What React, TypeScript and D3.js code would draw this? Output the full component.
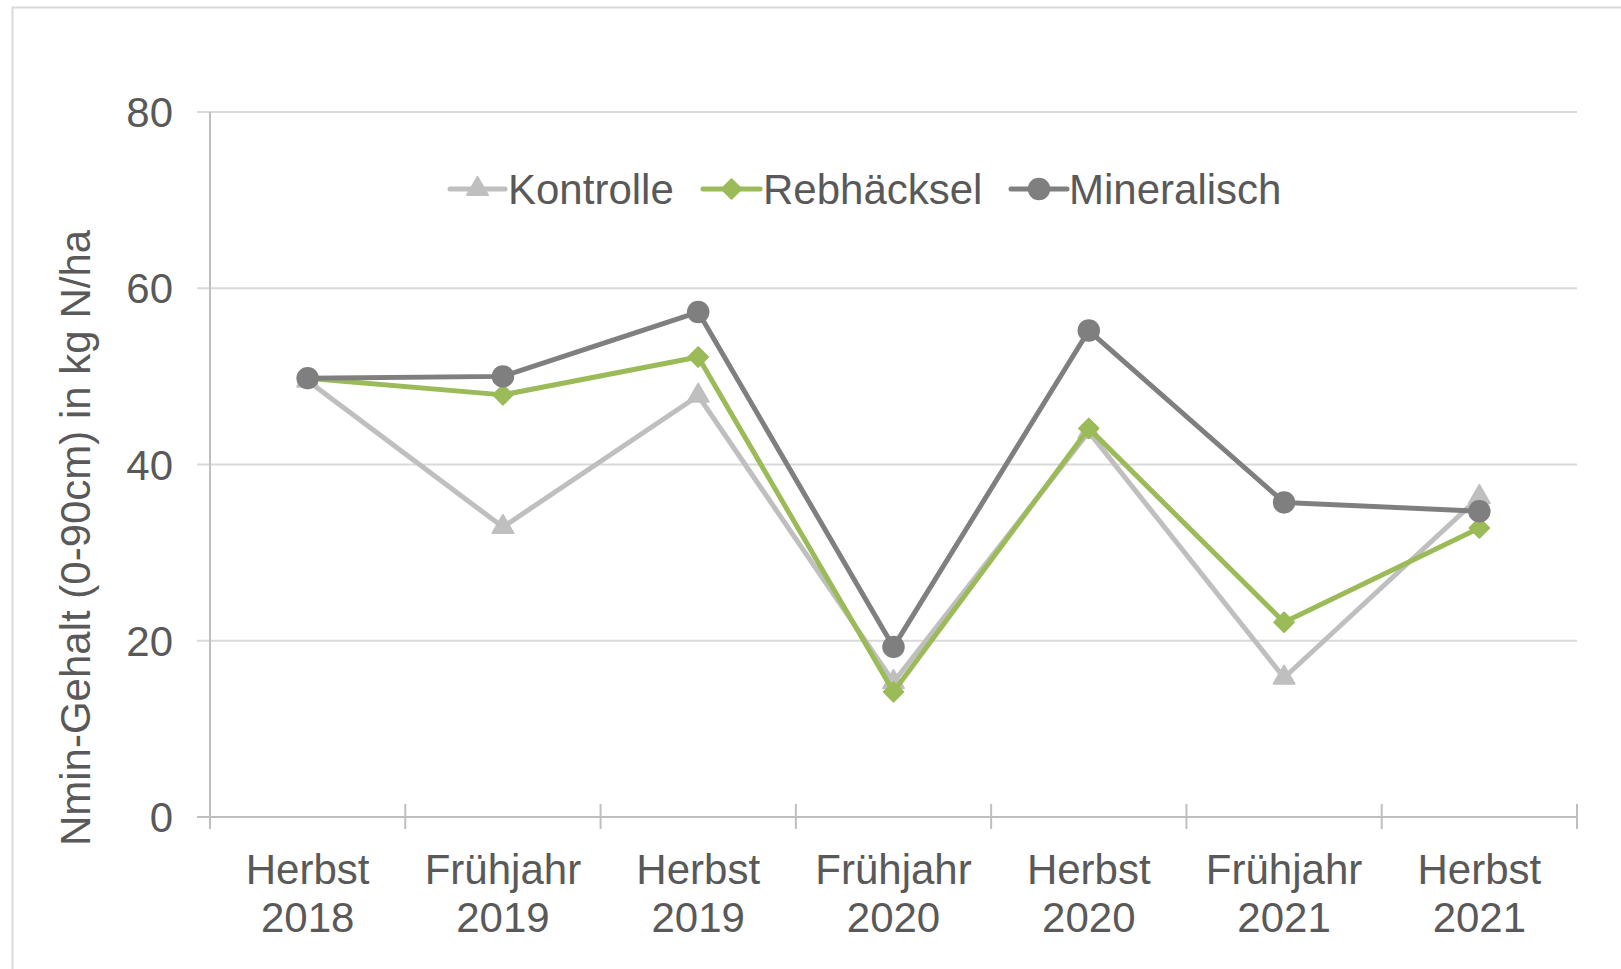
import React, { useEffect, useRef } from "react";
import * as d3 from "d3";

const categories = [
  ["Herbst", "2018"],
  ["Frühjahr", "2019"],
  ["Herbst", "2019"],
  ["Frühjahr", "2020"],
  ["Herbst", "2020"],
  ["Frühjahr", "2021"],
  ["Herbst", "2021"],
];
const kontrolle = [49.5, 32.9, 47.8, 15.3, 43.7, 15.8, 36.3];
const rebhaecksel = [49.8, 47.9, 52.2, 14.2, 44.1, 22.1, 32.8];
const mineralisch = [49.8, 50.0, 57.3, 19.3, 55.2, 35.7, 34.7];
const yTicks = [0, 20, 40, 60, 80];

const App = () => {
  const svgRef = useRef<SVGSVGElement>(null);

  useEffect(() => {
    const width = 1621,
      height = 969;
    const left = 210,
      right = 1577,
      top = 112,
      bottom = 817;
    const textColor = "#595959",
      gridColor = "#d9d9d9",
      axisColor = "#bfbfbf";
    const font = "'Liberation Sans', Arial, sans-serif";

    // square symbols get rotated 45deg to look like Excel's diamond
    const series = [
      { name: "Kontrolle", values: kontrolle, color: "#bfbfbf", symbol: d3.symbolTriangle, size: 190, rot: 0 },
      { name: "Rebhäcksel", values: rebhaecksel, color: "#9bbb59", symbol: d3.symbolSquare, size: 190, rot: 45 },
      { name: "Mineralisch", values: mineralisch, color: "#7f7f7f", symbol: d3.symbolCircle, size: 330, rot: 0 },
    ];

    const svg = d3
      .select(svgRef.current)
      .attr("width", width)
      .attr("height", height)
      .html("");

    svg.append("rect").attr("width", width).attr("height", height).attr("fill", "#fff");

    // outer chart border
    svg
      .append("rect")
      .attr("x", 12.5)
      .attr("y", 7.5)
      .attr("width", width)
      .attr("height", height)
      .attr("fill", "none")
      .attr("stroke", gridColor)
      .attr("stroke-width", 2);

    const x = d3
      .scaleBand()
      .domain(categories.map((_, i) => String(i)))
      .range([left, right]);
    const y = d3.scaleLinear().domain([0, 80]).range([bottom, top]);

    // gridlines + y ticks
    svg
      .append("g")
      .selectAll("line")
      .data(yTicks.filter((t) => t > 0))
      .enter()
      .append("line")
      .attr("x1", left - 13)
      .attr("x2", right)
      .attr("y1", (d) => y(d))
      .attr("y2", (d) => y(d))
      .attr("stroke", gridColor)
      .attr("stroke-width", 2);

    svg
      .append("g")
      .selectAll("text")
      .data(yTicks)
      .enter()
      .append("text")
      .attr("x", 173)
      .attr("y", (d) => y(d))
      .attr("dy", "0.36em")
      .attr("text-anchor", "end")
      .style("font-family", font)
      .style("font-size", "42px")
      .style("fill", textColor)
      .text((d) => d);

    // y axis line
    svg
      .append("line")
      .attr("x1", left)
      .attr("x2", left)
      .attr("y1", top)
      .attr("y2", bottom + 12)
      .attr("stroke", axisColor)
      .attr("stroke-width", 2);

    // x axis line
    svg
      .append("line")
      .attr("x1", left - 13)
      .attr("x2", right)
      .attr("y1", bottom)
      .attr("y2", bottom)
      .attr("stroke", axisColor)
      .attr("stroke-width", 2);

    // x ticks (crossing)
    const tickPos = categories.map((_, i) => x(String(i)) as number).concat([right]);
    svg
      .append("g")
      .selectAll("line")
      .data(tickPos)
      .enter()
      .append("line")
      .attr("x1", (d) => d)
      .attr("x2", (d) => d)
      .attr("y1", bottom - 13)
      .attr("y2", bottom + 12)
      .attr("stroke", axisColor)
      .attr("stroke-width", 2);

    // x labels
    const xl = svg
      .append("g")
      .selectAll("text")
      .data(categories)
      .enter()
      .append("text")
      .attr("text-anchor", "middle")
      .style("font-family", font)
      .style("font-size", "42px")
      .style("fill", textColor);
    xl.append("tspan")
      .attr("x", (_, i) => (x(String(i)) as number) + x.bandwidth() / 2)
      .attr("y", 884)
      .text((d) => d[0]);
    xl.append("tspan")
      .attr("x", (_, i) => (x(String(i)) as number) + x.bandwidth() / 2)
      .attr("y", 932)
      .text((d) => d[1]);

    // y axis title
    svg
      .append("text")
      .attr("transform", `translate(90, 538) rotate(-90)`)
      .attr("text-anchor", "middle")
      .style("font-family", font)
      .style("font-size", "42px")
      .style("fill", textColor)
      .text("Nmin-Gehalt (0-90cm) in kg N/ha");

    const cx = (i: number) => (x(String(i)) as number) + x.bandwidth() / 2;
    const line = d3
      .line<number>()
      .x((_, i) => cx(i))
      .y((d) => y(d));

    series.forEach((s) => {
      const g = svg.append("g");
      g.append("path")
        .attr("d", line(s.values))
        .attr("fill", "none")
        .attr("stroke", s.color)
        .attr("stroke-width", 5)
        .attr("stroke-linejoin", "round");
      g.selectAll("path.m")
        .data(s.values)
        .enter()
        .append("path")
        .attr("class", "m")
        .attr("d", d3.symbol().type(s.symbol).size(s.size)())
        .attr("transform", (d, i) => `translate(${cx(i)}, ${y(d)}) rotate(${s.rot})`)
        .attr("fill", s.color)
        .attr("stroke", s.color)
        .attr("stroke-width", 2)
        .attr("stroke-linejoin", "round");
    });

    // legend
    const legendY = 189;
    const legendItems = [
      { x0: 450, x1: 505, tx: 508 },
      { x0: 703, x1: 760, tx: 763 },
      { x0: 1011, x1: 1067, tx: 1069 },
    ];
    series.forEach((s, i) => {
      const it = legendItems[i];
      const g = svg.append("g");
      g.append("line")
        .attr("x1", it.x0)
        .attr("x2", it.x1)
        .attr("y1", legendY)
        .attr("y2", legendY)
        .attr("stroke", s.color)
        .attr("stroke-width", 5)
        .attr("stroke-linecap", "round");
      g.append("path")
        .attr("d", d3.symbol().type(s.symbol).size(s.size)())
        .attr("transform", `translate(${(it.x0 + it.x1) / 2}, ${legendY}) rotate(${s.rot})`)
        .attr("fill", s.color)
        .attr("stroke", s.color)
        .attr("stroke-width", 2)
        .attr("stroke-linejoin", "round");
      g.append("text")
        .attr("x", it.tx)
        .attr("y", legendY)
        .attr("dy", "0.36em")
        .style("font-family", font)
        .style("font-size", "42px")
        .style("fill", textColor)
        .text(s.name);
    });
  }, []);

  return (
    <div style={{ position: "absolute", left: 0, top: 0 }}>
      <svg ref={svgRef} style={{ display: "block" }}></svg>
    </div>
  );
};

export default App;
